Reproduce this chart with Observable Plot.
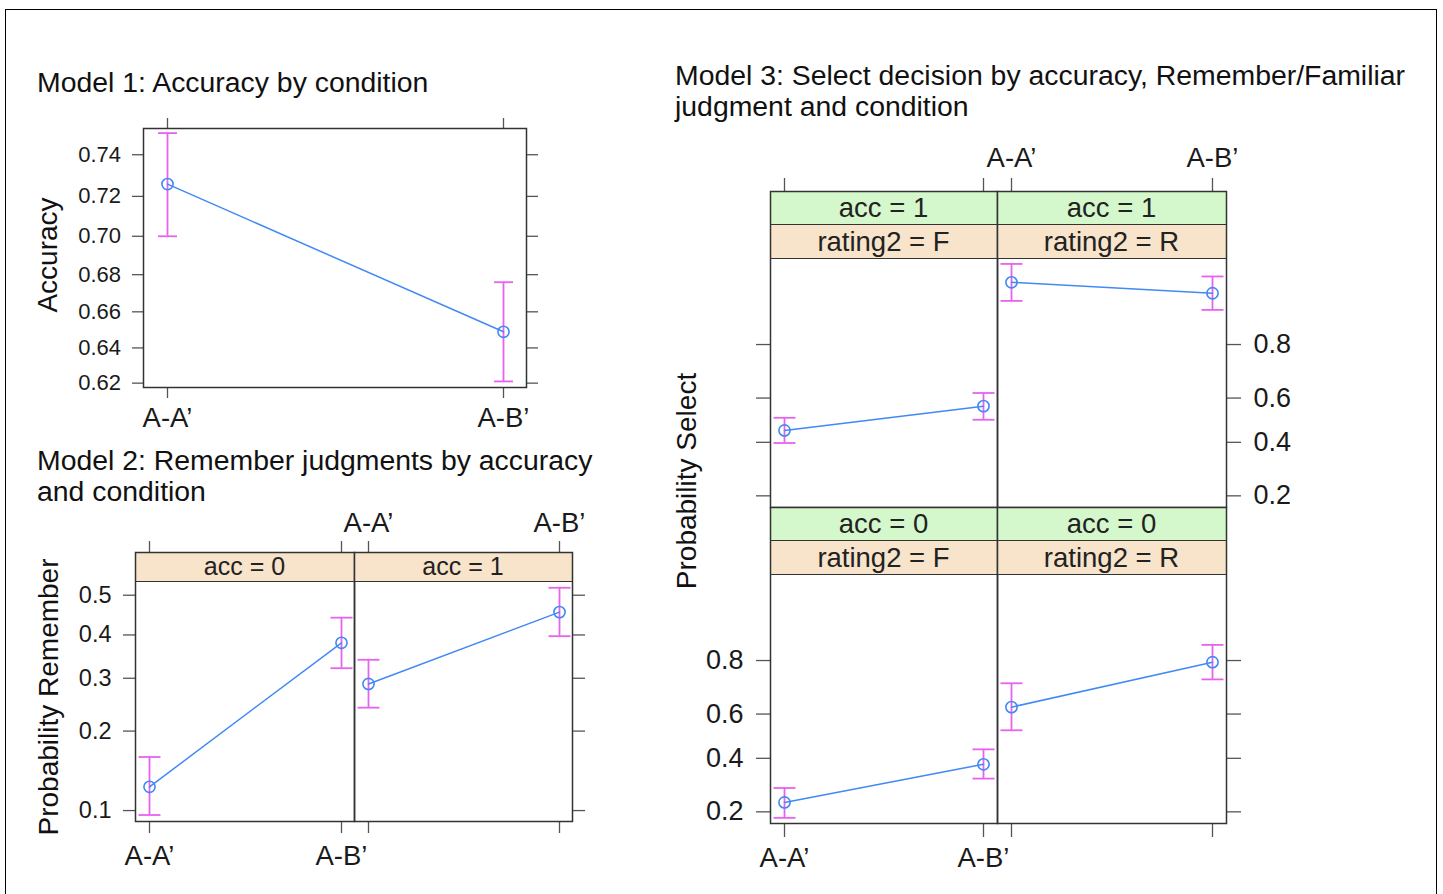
<!DOCTYPE html>
<html><head><meta charset="utf-8">
<script src="https://cdn.jsdelivr.net/npm/d3@7"></script>
<script src="https://cdn.jsdelivr.net/npm/@observablehq/plot@0.6"></script>
<style>
html,body{margin:0;padding:0;background:#fff;}
#root{position:relative;width:1443px;height:894px;overflow:hidden;font-family:"Liberation Sans",Arial,Helvetica,sans-serif;color:#111;}
.box{position:absolute;left:5px;top:9px;width:1432px;height:900px;border:1.5px solid #000;border-bottom:none;box-sizing:border-box;}
.title{position:absolute;font-size:28.4px;line-height:31.5px;white-space:nowrap;color:#111;}
.ylab{position:absolute;font-size:28px;line-height:32px;white-space:nowrap;transform:translate(-50%,-50%) rotate(-90deg);color:#111;}
.strip{position:absolute;box-sizing:border-box;border-bottom:1.5px solid #333;text-align:center;color:#222;white-space:nowrap;}
</style></head><body><div id="root"><div class="box"></div></div>
<script>
// ---------------- data ----------------
const conditions = ["A-A’", "A-B’"];

// Model 1: Accuracy by condition
const m1Fit   = [0.726, 0.649];
const m1Lower = [0.700, 0.621];
const m1Upper = [0.750, 0.676];
const m1Ticks = [0.62, 0.64, 0.66, 0.68, 0.70, 0.72, 0.74];

// Model 2: Remember judgments by accuracy and condition
const m2Strips = ["acc = 0", "acc = 1"];
const m2Acc0Fit   = [0.124, 0.381];
const m2Acc0Lower = [0.096, 0.322];
const m2Acc0Upper = [0.161, 0.443];
const m2Acc1Fit   = [0.288, 0.457];
const m2Acc1Lower = [0.241, 0.397];
const m2Acc1Upper = [0.341, 0.519];
const m2Ticks = [0.1, 0.2, 0.3, 0.4, 0.5];

// Model 3: Select decision by accuracy, rating and condition
const m3AccStrips = ["acc = 1", "acc = 0"];
const m3RatingStrips = ["rating2 = F", "rating2 = R"];
const m3Acc1FFit   = [0.453, 0.564];
const m3Acc1FLower = [0.397, 0.502];
const m3Acc1FUpper = [0.511, 0.622];
const m3Acc1RFit   = [0.926, 0.911];
const m3Acc1RLower = [0.899, 0.883];
const m3Acc1RUpper = [0.946, 0.933];
const m3Acc0FFit   = [0.229, 0.374];
const m3Acc0FLower = [0.183, 0.315];
const m3Acc0FUpper = [0.279, 0.440];
const m3Acc0RFit   = [0.630, 0.795];
const m3Acc0RLower = [0.527, 0.739];
const m3Acc0RUpper = [0.725, 0.842];
const m3Ticks = [0.2, 0.4, 0.6, 0.8];

// ---------------- helpers ----------------
const root = document.getElementById("root");
const logit = p => Math.log(p / (1 - p));
const expit = v => 1 / (1 + Math.exp(-v));
const BLUE = "#4189f4", MAGENTA = "#e862f0";
const GREEN = "#d4f7cb", ORANGE = "#f8e3cb";
const FONT = '"Liberation Sans", Arial, Helvetica, sans-serif';
// horizontal bar symbol for error-bar caps (half-length = r)
const capSymbol = {draw(ctx, size) { const r = Math.sqrt(size / Math.PI); ctx.moveTo(-r, 0); ctx.lineTo(r, 0); }};

function rows(fit, lower, upper) {
  return conditions.map((c, i) => ({cond: c, fit: fit[i], lower: lower[i], upper: upper[i]}));
}

function addDiv(cls, html, css) {
  const d = document.createElement("div");
  d.className = cls;
  d.innerHTML = html;
  Object.assign(d.style, css);
  root.appendChild(d);
  return d;
}

function panel(cfg) {
  const {data, x0, x1, y0, y1, strips = [], stripH = 0, stripFont = 22, domain, ticks, fmt,
    axes, tickSize, tickFont, xFont, cap, pad} = cfg;
  const ML = 90, MR = 90, MT = 70, MB = 70;
  const W = x1 - x0, H = y1 - y0, sH = strips.length * stripH;
  strips.forEach((s, i) => {
    addDiv("strip", s.text, {
      left: x0 + "px", top: (y0 + i * stripH) + "px", width: W + "px", height: stripH + "px",
      background: s.bg, fontSize: stripFont + "px", lineHeight: (stripH - 1) + "px"
    });
  });
  const yAxis = (anchor, labeled) => Plot.axisY(ticks.map(logit), {
    anchor, tickSize, tickPadding: pad.y, label: null, stroke: "#555", strokeWidth: 1.3, fill: "#1a1a1a",
    fontSize: tickFont, tickFormat: labeled ? (v => fmt(expit(v))) : (() => "")
  });
  const xAxis = (anchor, labeled) => Plot.axisX(conditions, {
    anchor, tickSize, tickPadding: anchor === "top" ? pad.xt : pad.xb, label: null, stroke: "#555", strokeWidth: 1.3,
    fill: "#1a1a1a", fontSize: xFont, tickFormat: labeled ? (d => d) : (() => "")
  });
  const marks = [];
  if (axes.left !== undefined) marks.push(yAxis("left", axes.left));
  if (axes.right !== undefined) marks.push(yAxis("right", axes.right));
  if (axes.top !== undefined) marks.push(xAxis("top", axes.top));
  if (axes.bottom !== undefined) marks.push(xAxis("bottom", axes.bottom));
  marks.push(
    Plot.ruleX(data, {x: "cond", y1: d => logit(d.lower), y2: d => logit(d.upper), stroke: MAGENTA, strokeWidth: 1.8}),
    Plot.dot(data, {x: "cond", y: d => logit(d.upper), symbol: capSymbol, r: cap, stroke: MAGENTA, fill: "none", strokeWidth: 1.8}),
    Plot.dot(data, {x: "cond", y: d => logit(d.lower), symbol: capSymbol, r: cap, stroke: MAGENTA, fill: "none", strokeWidth: 1.8}),
    Plot.line(data, {x: "cond", y: d => logit(d.fit), stroke: BLUE, strokeWidth: 1.5}),
    Plot.dot(data, {x: "cond", y: d => logit(d.fit), r: 5.6, stroke: BLUE, fill: "none", strokeWidth: 1.6}),
    Plot.frame({stroke: "#333", strokeWidth: 1.5})
  );
  const svg = Plot.plot({
    width: W + ML + MR, height: H + MT + MB,
    marginLeft: ML, marginRight: MR, marginTop: MT, marginBottom: MB,
    x: {type: "point", domain: conditions, padding: 0.069},
    y: {type: "linear", domain: domain.map(logit), range: [MT + H, MT + sH]},
    marks
  });
  svg.style.position = "absolute";
  svg.style.left = (x0 - ML) + "px";
  svg.style.top = (y0 - MT) + "px";
  svg.style.background = "transparent";
  svg.style.overflow = "visible";
  svg.style.maxWidth = "none";
  svg.style.fontFamily = FONT;
  root.appendChild(svg);
}

// ---------------- titles ----------------
addDiv("title", "Model 1: Accuracy by condition", {left: "37px", top: "66.5px"});
addDiv("title", "Model 2: Remember judgments by accuracy<br>and condition", {left: "37px", top: "444.5px"});
addDiv("title", "Model 3: Select decision by accuracy, Remember/Familiar<br>judgment and condition", {left: "675px", top: "59.5px"});
addDiv("ylab", "Accuracy", {left: "48px", top: "255px"});
addDiv("ylab", "Probability Remember", {left: "48.5px", top: "696.5px"});
addDiv("ylab", "Probability Select", {left: "687px", top: "481px"});

// ---------------- Model 1 ----------------
const f2 = d3.format(".2f"), f1 = d3.format(".1f");
panel({
  data: rows(m1Fit, m1Lower, m1Upper), x0: 143, x1: 526, y0: 128, y1: 387,
  domain: [0.6175, 0.7521], ticks: m1Ticks, fmt: f2,
  axes: {left: true, right: false, top: false, bottom: true},
  tickSize: 11, tickFont: 22, xFont: 27.5, cap: 9.5, pad: {y: 11.5, xt: 10, xb: 9}
});

// ---------------- Model 2 ----------------
const m2Common = {y0: 552, y1: 821, stripH: 30, stripFont: 25, domain: [0.0904, 0.5324], ticks: m2Ticks, fmt: f1,
  tickSize: 12, tickFont: 23.5, xFont: 27.5, cap: 11, pad: {y: 12, xt: 9, xb: 12}};
panel({...m2Common, data: rows(m2Acc0Fit, m2Acc0Lower, m2Acc0Upper), x0: 135, x1: 354,
  strips: [{text: m2Strips[0], bg: ORANGE}], axes: {left: true, top: false, bottom: true}});
panel({...m2Common, data: rows(m2Acc1Fit, m2Acc1Lower, m2Acc1Upper), x0: 354, x1: 572,
  strips: [{text: m2Strips[1], bg: ORANGE}], axes: {right: false, top: true, bottom: false}});

// ---------------- Model 3 ----------------
const m3Common = {stripH: 34, stripFont: 27.5, domain: [0.168, 0.950], ticks: m3Ticks, fmt: f1,
  tickSize: 14, tickFont: 27, xFont: 27.5, cap: 11, pad: {y: 13, xt: 11, xb: 10}};
panel({...m3Common, data: rows(m3Acc1FFit, m3Acc1FLower, m3Acc1FUpper), x0: 770, x1: 997, y0: 191, y1: 507,
  strips: [{text: m3AccStrips[0], bg: GREEN}, {text: m3RatingStrips[0], bg: ORANGE}], axes: {left: false, top: false}});
panel({...m3Common, data: rows(m3Acc1RFit, m3Acc1RLower, m3Acc1RUpper), x0: 997, x1: 1226, y0: 191, y1: 507,
  strips: [{text: m3AccStrips[0], bg: GREEN}, {text: m3RatingStrips[1], bg: ORANGE}], axes: {right: true, top: true}});
panel({...m3Common, data: rows(m3Acc0FFit, m3Acc0FLower, m3Acc0FUpper), x0: 770, x1: 997, y0: 507, y1: 823,
  strips: [{text: m3AccStrips[1], bg: GREEN}, {text: m3RatingStrips[0], bg: ORANGE}], axes: {left: true, bottom: true}});
panel({...m3Common, data: rows(m3Acc0RFit, m3Acc0RLower, m3Acc0RUpper), x0: 997, x1: 1226, y0: 507, y1: 823,
  strips: [{text: m3AccStrips[1], bg: GREEN}, {text: m3RatingStrips[1], bg: ORANGE}], axes: {right: false, bottom: false}});
</script></body></html>
